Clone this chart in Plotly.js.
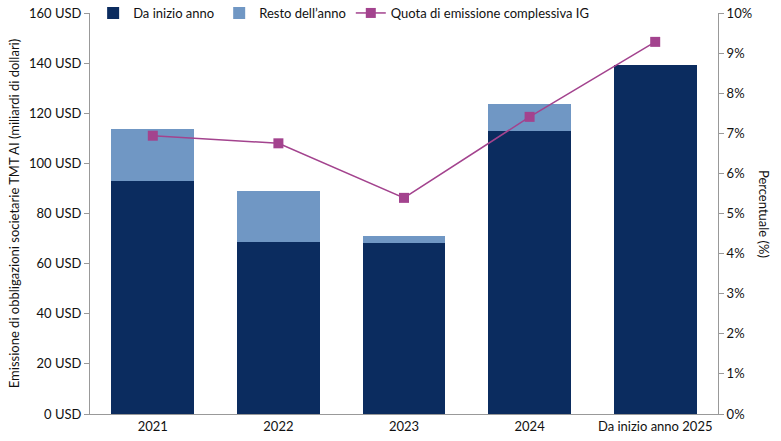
<!DOCTYPE html>
<html>
<head>
<meta charset="utf-8">
<script src="https://cdn.plot.ly/plotly-3.0.1.min.js"></script>
<style>
  html, body { margin: 0; padding: 0; background: #fff; }
  #chart { width: 781px; height: 441px; }
</style>
</head>
<body>
<div id="chart"></div>
<script>
// categories and values
const periods = ["2021", "2022", "2023", "2024", "Da inizio anno 2025"];
const ytdIssuance = [93.0, 68.6, 68.1, 113.1, 139.3];   // miliardi USD
const restOfYear = [20.6, 20.3, 3.1, 10.5, 0];           // miliardi USD
const igShare = [6.94, 6.75, 5.39, 7.41, 9.28];          // %

const usdTicks = [0, 20, 40, 60, 80, 100, 120, 140, 160];
const pctTicks = [0, 1, 2, 3, 4, 5, 6, 7, 8, 9, 10];

const font = "Lato, 'Open Sans', sans-serif";

let data = [
    {
        type: "bar",
        name: "Da inizio anno",
        x: periods,
        y: ytdIssuance,
        marker: { color: "#0b2c5f" }
    },
    {
        type: "bar",
        name: "Resto dell\u2019anno",
        x: periods,
        y: restOfYear,
        marker: { color: "#7097c4" }
    },
    {
        type: "scatter",
        mode: "lines+markers",
        name: "Quota di emissione complessiva IG",
        x: periods,
        y: igShare,
        yaxis: "y2",
        line: { color: "#a3438e", width: 1.5 },
        marker: { symbol: "square", size: 10, color: "#a3438e" }
    }
];

let layout = {
    width: 781,
    height: 441,
    // margins fixed so the legend can sit on the top edge of the plot
    margin: { t: 13, b: 27, l: 90, r: 63, autoexpand: false },
    barmode: "stack",
    bargap: 0.34,
    paper_bgcolor: "#fff",
    plot_bgcolor: "#fff",
    font: { family: font, size: 13, color: "#111" },
    showlegend: true,
    legend: {
        orientation: "h",
        x: 0.005,
        xanchor: "left",
        y: 1.0,
        yanchor: "middle",
        bgcolor: "rgba(255,255,255,0)",
        font: { size: 13 },
        traceorder: "normal"
    },
    xaxis: {
        type: "category",
        showline: true,
        linecolor: "#999",
        linewidth: 1,
        ticks: "",
        showgrid: false,
        tickfont: { size: 13 }
    },
    yaxis: {
        range: [0, 160],
        tickmode: "array",
        tickvals: usdTicks,
        ticktext: usdTicks.map(v => v + " USD"),
        showline: true,
        linecolor: "#999",
        ticks: "outside",
        ticklen: 5,
        tickcolor: "#999",
        showgrid: false,
        zeroline: false,
        title: {
            text: "Emissione di obbligazioni societarie TMT AI (miliardi di dollari)",
            font: { size: 13 },
            standoff: 6
        }
    },
    yaxis2: {
        overlaying: "y",
        side: "right",
        range: [0, 10],
        tickmode: "array",
        tickvals: pctTicks,
        ticktext: pctTicks.map(v => v + "%"),
        showline: true,
        linecolor: "#999",
        ticks: "outside",
        ticklen: 5,
        tickcolor: "#999",
        showgrid: false,
        zeroline: false
    },
    annotations: [{
        text: "Percentuale (%)",
        xref: "paper",
        yref: "paper",
        x: 1.09,
        y: 0.5,
        showarrow: false,
        textangle: 90,
        font: { size: 13 }
    }]
};

Plotly.newPlot("chart", data, layout, { displayModeBar: false });
</script>
</body>
</html>
